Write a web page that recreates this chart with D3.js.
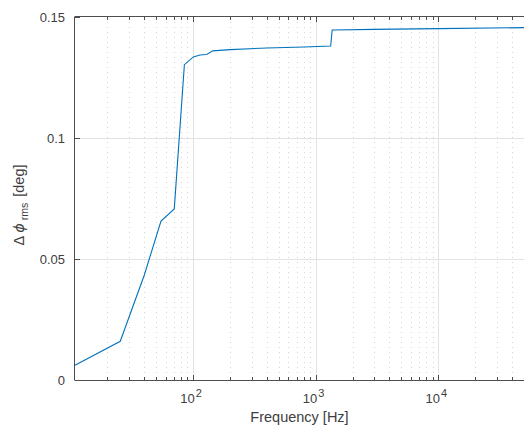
<!DOCTYPE html>
<html>
<head>
<meta charset="utf-8">
<script src="https://cdn.jsdelivr.net/npm/d3@7"></script>
<style>
  body { margin: 0; background: #fff; }
  svg { font-family: Helvetica, Arial, "Liberation Sans", sans-serif; }
</style>
</head>
<body>
<svg width="524" height="426"></svg>
<script>
// data
var freq = [10.9, 25.5, 40, 54.8, 70.3, 85, 100.6, 114, 129, 145, 200, 400, 800, 1325, 1364, 3000, 10000, 50000];
var dphi = [0.0061, 0.016, 0.0433, 0.0657, 0.0707, 0.1303, 0.1335, 0.1343, 0.1345, 0.136, 0.1365, 0.1372, 0.1376, 0.138, 0.1446, 0.1449, 0.1452, 0.1456];
var yTicks = [0, 0.05, 0.1, 0.15];
var yTickLabels = ["0", "0.05", "0.1", "0.15"];
var xMajor = [100, 1000, 10000];
var xExp = ["2", "3", "4"];

var svg = d3.select("svg");
var pLeft = 75, pRight = 524, pTop = 17, pBottom = 380;

var x = d3.scaleLog().domain([10.9, 50000]).range([pLeft, pRight]);
var y = d3.scaleLinear().domain([0, 0.15]).range([pBottom, pTop]);

// minor ticks 20..90, 200..900 ...
var xMinor = [];
[10, 100, 1000, 10000].forEach(function(dec) {
  for (var k = 2; k <= 9; k++) {
    var v = dec * k;
    if (v > 10.9 && v < 50000) xMinor.push(v);
  }
});

var grid = svg.append("g");
grid.selectAll("line.minor")
  .data(xMinor).enter().append("line")
  .attr("x1", function(d) { return Math.round(x(d)) + 0.5; })
  .attr("x2", function(d) { return Math.round(x(d)) + 0.5; })
  .attr("y1", pTop).attr("y2", pBottom)
  .attr("stroke", "#d6d6d6")
  .attr("stroke-width", 1)
  .attr("stroke-dasharray", "1,4");
grid.selectAll("line.xmaj")
  .data(xMajor).enter().append("line")
  .attr("x1", function(d) { return Math.round(x(d)) + 0.5; })
  .attr("x2", function(d) { return Math.round(x(d)) + 0.5; })
  .attr("y1", pTop).attr("y2", pBottom)
  .attr("stroke", "#e3e3e3");
grid.selectAll("line.ymaj")
  .data(yTicks.slice(1, 3)).enter().append("line")
  .attr("x1", pLeft).attr("x2", pRight)
  .attr("y1", function(d) { return Math.round(y(d)) + 0.5; })
  .attr("y2", function(d) { return Math.round(y(d)) + 0.5; })
  .attr("stroke", "#e3e3e3");

// the data line
var line = d3.line()
  .x(function(d, i) { return x(freq[i]); })
  .y(function(d) { return y(d); });
svg.append("path")
  .datum(dphi)
  .attr("d", line)
  .attr("fill", "none")
  .attr("stroke", "#0072BD")
  .attr("stroke-width", 1.1);

// axes box and ticks
var axCol = "#4d4d4d";
var frame = svg.append("g").attr("stroke", axCol).attr("stroke-width", 1).attr("fill", "none");
frame.append("line").attr("x1", pLeft).attr("x2", pRight).attr("y1", pBottom + 0.5).attr("y2", pBottom + 0.5);
frame.append("line").attr("x1", pLeft).attr("x2", pRight).attr("y1", pTop - 0.5).attr("y2", pTop - 0.5);
frame.append("line").attr("x1", pLeft - 0.5).attr("x2", pLeft - 0.5).attr("y1", pTop - 0.5).attr("y2", pBottom + 0.5);

[pBottom, pTop].forEach(function(edge) {
  var dir = edge === pBottom ? -1 : 1;
  frame.selectAll(null).data(xMinor).enter().append("line")
    .attr("x1", function(d) { return Math.round(x(d)) + 0.5; })
    .attr("x2", function(d) { return Math.round(x(d)) + 0.5; })
    .attr("y1", edge).attr("y2", edge + dir * 3);
  frame.selectAll(null).data(xMajor).enter().append("line")
    .attr("x1", function(d) { return Math.round(x(d)) + 0.5; })
    .attr("x2", function(d) { return Math.round(x(d)) + 0.5; })
    .attr("y1", edge).attr("y2", edge + dir * 5);
});
frame.selectAll(null).data(yTicks).enter().append("line")
  .attr("x1", pLeft).attr("x2", pLeft + 5)
  .attr("y1", function(d) { return Math.round(y(d)) + 0.5; })
  .attr("y2", function(d) { return Math.round(y(d)) + 0.5; });

// tick labels
var txtCol = "#404040";
svg.append("g").selectAll("text")
  .data(yTicks).enter().append("text")
  .attr("x", pLeft - 10)
  .attr("y", function(d) { return y(d) + 4.5; })
  .attr("text-anchor", "end")
  .attr("font-size", 13)
  .attr("fill", txtCol)
  .text(function(d, i) { return yTickLabels[i]; });

var xl = svg.append("g").selectAll("text")
  .data(xMajor).enter().append("text")
  .attr("x", function(d) { return x(d) - 2; })
  .attr("y", pBottom + 23)
  .attr("text-anchor", "middle")
  .attr("font-size", 13)
  .attr("fill", txtCol);
xl.append("tspan").text("10");
xl.append("tspan")
  .attr("dx", 1)
  .attr("dy", -6)
  .attr("font-size", 11)
  .text(function(d, i) { return xExp[i]; });

// axis titles
svg.append("text")
  .attr("x", (pLeft + pRight) / 2)
  .attr("y", 422)
  .attr("text-anchor", "middle")
  .attr("font-size", 14.5)
  .attr("fill", txtCol)
  .text("Frequency [Hz]");

var yt = svg.append("text")
  .attr("transform", "translate(24,205) rotate(-90)")
  .attr("text-anchor", "middle")
  .attr("font-size", 14.5)
  .attr("fill", txtCol);
yt.append("tspan").text("\u0394");
yt.append("tspan").attr("dx", 3).attr("font-style", "italic").attr("font-family", "DejaVu Sans, sans-serif").attr("font-weight", 300).text("\u03d5");
yt.append("tspan").attr("dy", 4).attr("dx", 3).attr("font-size", 10.5).text("rms");
yt.append("tspan").attr("dy", -4).attr("dx", 6).text("[deg]");
</script>
</body>
</html>
